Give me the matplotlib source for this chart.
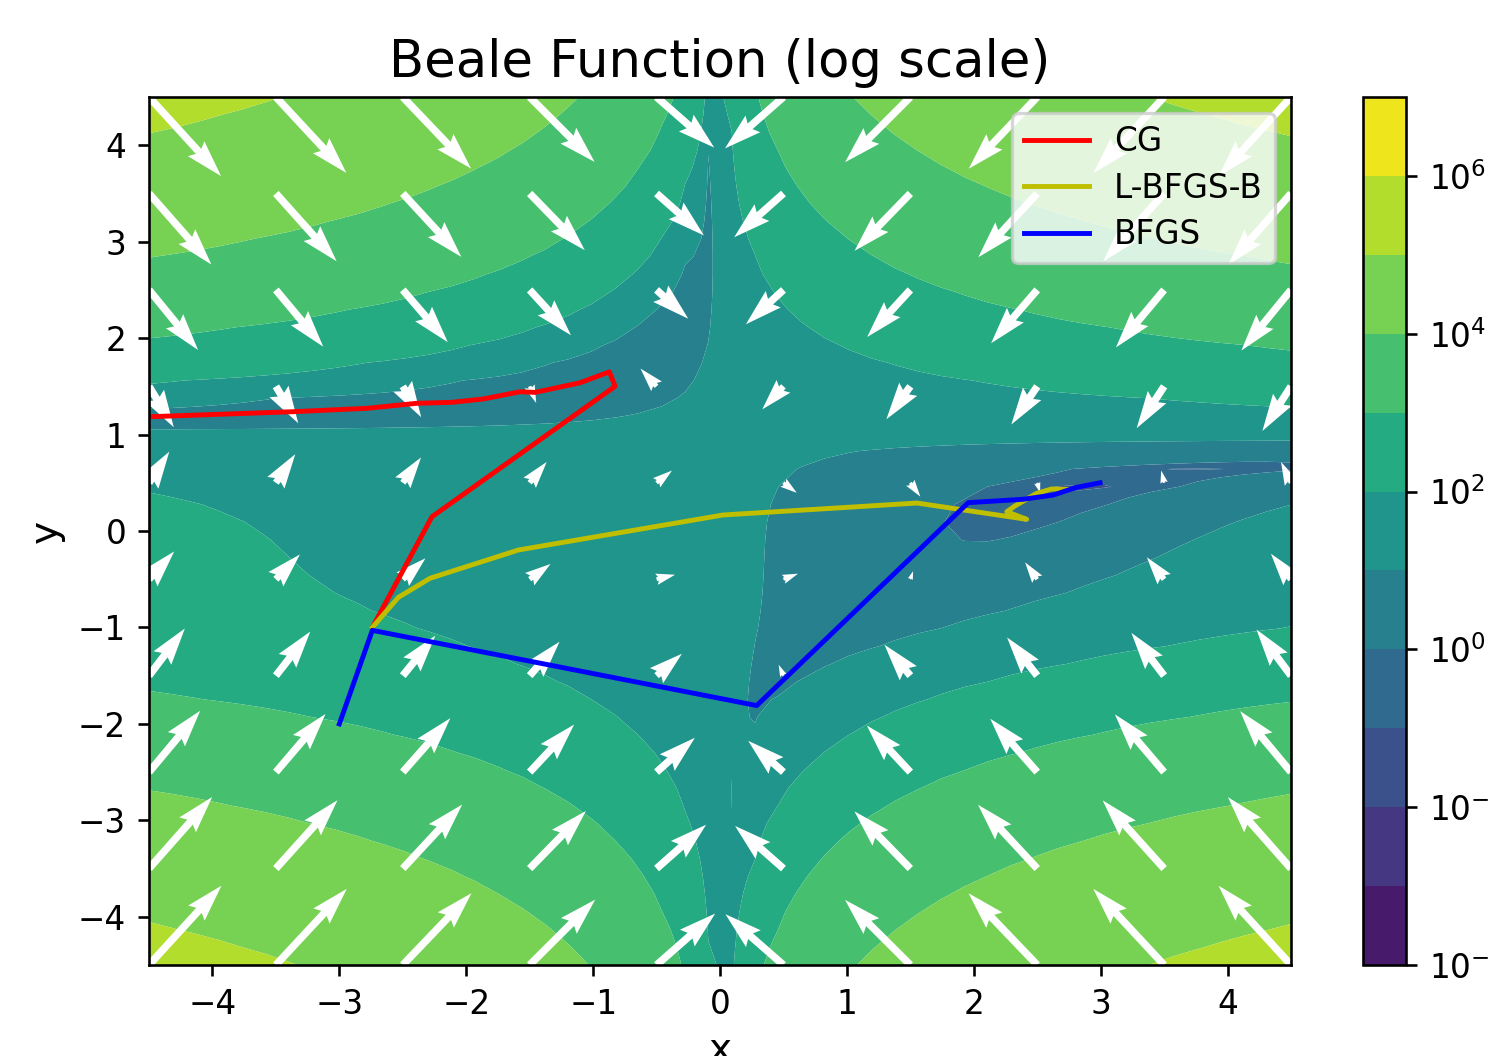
import numpy as np
import matplotlib
matplotlib.use("Agg")
import matplotlib.pyplot as plt
from matplotlib.colors import LogNorm, ListedColormap

W, H, DPI = 1489, 1056, 235

# Optimiser paths
cg_x = [-2.74, -2.27, -0.827, -0.872, -1.103, -1.458, -1.576, -1.865, -2.114, -2.39, -2.784, -3.365, -4.6]
cg_y = [-1.0, 0.148, 1.50, 1.65, 1.537, 1.437, 1.444, 1.369, 1.334, 1.324, 1.272, 1.237, 1.18]
lb_x = [-2.74, -2.535, -2.285, -1.589, 0.024, 1.552, 2.417, 2.26, 2.325, 2.495, 2.614, 2.73]
lb_y = [-1.0, -0.688, -0.49, -0.197, 0.166, 0.29, 0.121, 0.20, 0.26, 0.39, 0.436, 0.432]
bf_x = [-3.0, -2.74, 0.289, 1.957, 2.39, 2.627, 2.81, 2.995]
bf_y = [-2.0, -1.03, -1.81, 0.294, 0.329, 0.373, 0.453, 0.50]
levels = [1e-4, 1e-3, 1e-2, 1e-1, 1e0, 1e1, 1e2, 1e3, 1e4, 1e5, 1e6, 1e7]
limits = [-4.5, 4.5]

def beale(x, y):
    return (1.5 - x + x*y)**2 + (2.25 - x + x*y**2)**2 + (2.625 - x + x*y**3)**2

def beale_grad(x, y):
    t1, t2, t3 = 1.5 - x + x*y, 2.25 - x + x*y**2, 2.625 - x + x*y**3
    fx = 2*(t1*(y - 1) + t2*(y**2 - 1) + t3*(y**3 - 1))
    fy = 2*(t1*x + t2*2*x*y + t3*3*x*y**2)
    return fx, fy

fig = plt.figure(figsize=(W/DPI, H/DPI), dpi=DPI)
ax = fig.add_axes([149/W, 1 - 965/H, (1291 - 149)/W, (965 - 97)/H])
cax = fig.add_axes([1363/W, 1 - 965/H, (1406 - 1363)/W, (965 - 97)/H])

# Each band takes the colour of its linear midpoint on the log colour scale
norm = LogNorm(vmin=levels[0], vmax=levels[-1])
band_cmap = ListedColormap([plt.cm.viridis(norm(0.5*(a + b))) for a, b in zip(levels[:-1], levels[1:])])

gx, gy = np.meshgrid(np.linspace(*limits, 50), np.linspace(*limits, 50))
cs = ax.contourf(gx, gy, beale(gx, gy), levels=levels, norm=norm, cmap=band_cmap, antialiased=True)

qx, qy = np.meshgrid(np.linspace(*limits, 10), np.linspace(*limits, 10))
fx, fy = beale_grad(qx, qy)
u = -np.sign(fx)*np.log(np.abs(fx))
v = -np.sign(fy)*np.log(np.abs(fy))
ax.quiver(qx, qy, u, v, color="white", width=0.0065, scale=178, scale_units="width", angles="uv")

ax.plot(cg_x, cg_y, color="r", lw=1.5, label="CG")
ax.plot(lb_x, lb_y, color=(0.75, 0.75, 0), lw=1.5, label="L-BFGS-B")
ax.plot(bf_x, bf_y, color="b", lw=1.5, label="BFGS")

ax.set_xlim(limits)
ax.set_ylim(limits)
ax.set_xticks([-4, -3, -2, -1, 0, 1, 2, 3, 4])
ax.set_yticks([-4, -3, -2, -1, 0, 1, 2, 3, 4])
ax.set_xlabel("x", fontsize=12, labelpad=3)
ax.set_ylabel("y", fontsize=12)
ax.set_title("Beale Function (log scale)", fontsize=15.7)
ax.legend(loc="upper right", labelspacing=0.42, borderpad=0.36, handletextpad=0.77)

cb = fig.colorbar(cs, cax=cax)
cb.set_ticks([1e-4, 1e-2, 1e0, 1e2, 1e4, 1e6])
cb.ax.minorticks_off()

fig.savefig("out.png", dpi=DPI)
